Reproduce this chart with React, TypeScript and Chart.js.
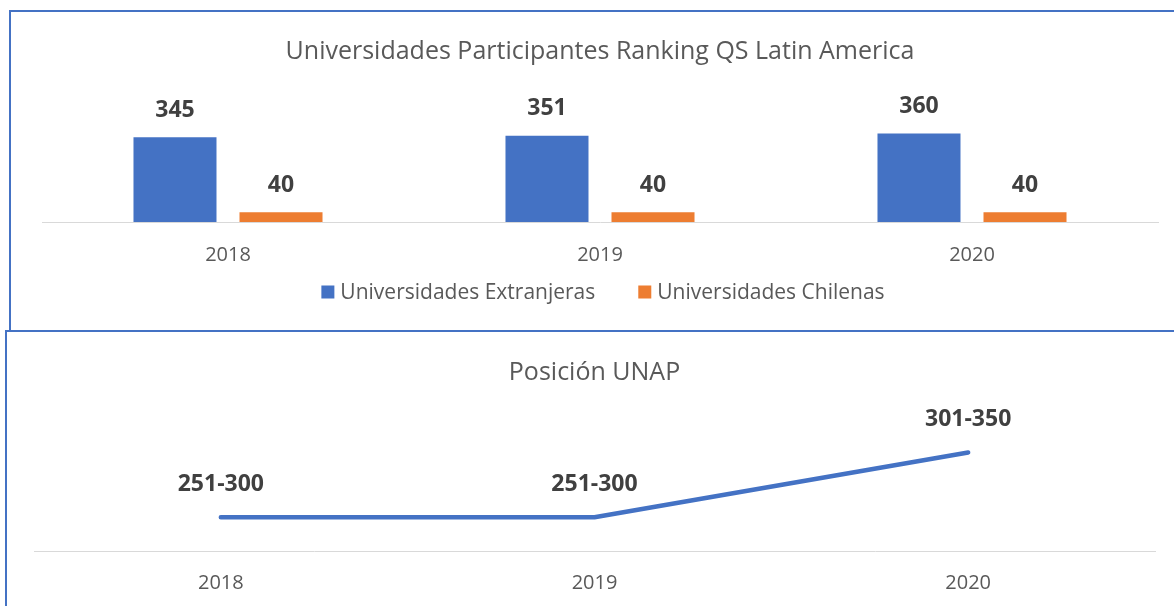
import React, { useEffect, useRef } from "react";
import { Chart, registerables } from "chart.js";

Chart.register(...registerables);

const years = ["2018", "2019", "2020"];
const seriesNames = ["Universidades Extranjeras", "Universidades Chilenas"];
const extranjeras = [345, 351, 360];
const chilenas = [40, 40, 40];
const unapRankValues = [251, 251, 301];
const unapRankLabels = ["251-300", "251-300", "301-350"];

const barTitle = "Universidades Participantes Ranking QS Latin America";
const lineTitle = "Posición UNAP";

const FONT = "'Open Sans', sans-serif";
const BLUE = "#4472C4";
const ORANGE = "#ED7D31";
const TEXT = "#595959";
const LABEL = "#404040";
const AXIS = "#D9D9D9";

function valueLabels(offset: number, getText: (di: number, i: number, v: number) => string) {
  return {
    id: "valueLabels",
    afterDatasetsDraw(chart: any) {
      const ctx = chart.ctx;
      ctx.save();
      ctx.font = `bold 23px ${FONT}`;
      ctx.fillStyle = LABEL;
      ctx.textAlign = "center";
      ctx.textBaseline = "middle";
      chart.data.datasets.forEach((ds: any, di: number) => {
        const meta = chart.getDatasetMeta(di);
        meta.data.forEach((el: any, i: number) => {
          ctx.fillText(getText(di, i, ds.data[i]), el.x, el.y - offset);
        });
      });
      ctx.restore();
    },
  };
}

const bottomLegend = {
  id: "bottomLegend",
  afterDraw(chart: any) {
    const ctx = chart.ctx;
    const box = 13;
    const gap = 6;
    const spacing = 43;
    const y = chart.height - 38;
    ctx.save();
    ctx.font = `21px ${FONT}`;
    ctx.textBaseline = "middle";
    ctx.textAlign = "left";
    const items = chart.data.datasets.map((ds: any) => ({
      text: ds.label as string,
      color: ds.backgroundColor as string,
      w: ctx.measureText(ds.label).width,
    }));
    const total =
      items.reduce((s: number, it: any) => s + box + gap + it.w, 0) + spacing * (items.length - 1);
    let x = (chart.chartArea.left + chart.chartArea.right) / 2 - total / 2 + 3;
    items.forEach((it: any) => {
      ctx.fillStyle = it.color;
      ctx.fillRect(x, y - box / 2, box, box);
      ctx.fillStyle = TEXT;
      ctx.fillText(it.text, x + box + gap, y + 1);
      x += box + gap + it.w + spacing;
    });
    ctx.restore();
  },
};

function BarChart() {
  const ref = useRef<HTMLCanvasElement | null>(null);
  useEffect(() => {
    if (!ref.current) return;
    const chart = new Chart(ref.current, {
      type: "bar",
      data: {
        labels: years,
        datasets: [
          {
            label: seriesNames[0],
            data: extranjeras,
            backgroundColor: BLUE,
            categoryPercentage: 0.57,
            barPercentage: 0.783,
          },
          {
            label: seriesNames[1],
            data: chilenas,
            backgroundColor: ORANGE,
            categoryPercentage: 0.57,
            barPercentage: 0.783,
          },
        ],
      },
      options: {
        animation: false,
        responsive: false,
        layout: { padding: { left: 31, right: 16, top: 0, bottom: 57 } },
        plugins: {
          legend: { display: false },
          tooltip: { enabled: false },
          title: {
            display: true,
            text: barTitle,
            color: TEXT,
            font: { family: FONT, size: 25, weight: "normal" },
            padding: { top: 25, bottom: 58 },
          },
        },
        scales: {
          x: {
            grid: { display: false, drawTicks: false },
            border: { display: true, color: AXIS, width: 1 },
            ticks: { color: TEXT, font: { family: FONT, size: 20 }, padding: 21 },
            afterFit: (s: any) => {
              s.height = 51;
            },
          },
          y: { display: false, min: 0, max: 395 },
        },
      },
      plugins: [valueLabels(27, (_di, _i, v) => String(v)), bottomLegend],
    } as any);
    return () => chart.destroy();
  }, []);
  return <canvas ref={ref} width={1163} height={318} style={{ display: "block" }} />;
}

function LineChart() {
  const ref = useRef<HTMLCanvasElement | null>(null);
  useEffect(() => {
    if (!ref.current) return;
    const chart = new Chart(ref.current, {
      type: "line",
      data: {
        labels: years,
        datasets: [
          {
            label: lineTitle,
            data: unapRankValues,
            borderColor: BLUE,
            backgroundColor: BLUE,
            borderWidth: 4.5,
            pointRadius: 0,
            borderCapStyle: "round",
            borderJoinStyle: "round",
            tension: 0,
          },
        ],
      },
      options: {
        animation: false,
        responsive: false,
        layout: { padding: { left: 27, right: 19, top: 0, bottom: 0 } },
        plugins: {
          legend: { display: false },
          tooltip: { enabled: false },
          title: {
            display: true,
            text: lineTitle,
            color: TEXT,
            font: { family: FONT, size: 25, weight: "normal" },
            padding: { top: 26, bottom: 1 },
          },
        },
        scales: {
          x: {
            offset: true,
            grid: { display: false, drawTicks: false },
            border: { display: true, color: AXIS, width: 1 },
            ticks: { color: TEXT, font: { family: FONT, size: 20 }, padding: 20 },
            afterFit: (s: any) => {
              s.height = 55;
            },
          },
          y: { display: false, min: 225, max: 350 },
        },
      },
      plugins: [valueLabels(33, (_di, i) => unapRankLabels[i])],
    } as any);
    return () => chart.destroy();
  }, []);
  return <canvas ref={ref} width={1167} height={274} style={{ display: "block" }} />;
}

export default function App() {
  return (
    <div
      style={{
        position: "fixed",
        left: 0,
        top: 0,
        width: 1174,
        height: 606,
        background: "#fff",
        overflow: "hidden",
      }}
    >
      <div
        style={{
          position: "absolute",
          left: 9,
          top: 10,
          width: 1200,
          height: 322,
          border: `2px solid ${BLUE}`,
          boxSizing: "border-box",
        }}
      />
      <div
        style={{
          position: "absolute",
          left: 5,
          top: 330,
          width: 1200,
          height: 300,
          border: `2px solid ${BLUE}`,
          boxSizing: "border-box",
        }}
      />
      <div style={{ position: "absolute", left: 11, top: 12 }}>
        <BarChart />
      </div>
      <div style={{ position: "absolute", left: 7, top: 332 }}>
        <LineChart />
      </div>
    </div>
  );
}
